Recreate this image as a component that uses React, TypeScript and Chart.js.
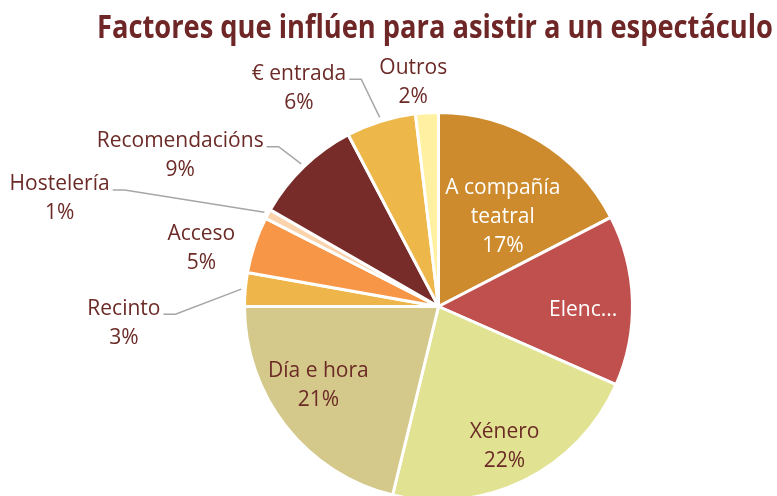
import React, { useEffect, useRef } from "react";
import { Chart, registerables } from "chart.js";

Chart.register(...registerables);

const TITLE = "Factores que inflúen para asistir a un espectáculo";
const categories = [
  "A compañía teatral",
  "Elenco",
  "Xénero",
  "Día e hora",
  "Recinto",
  "Acceso",
  "Hostelería",
  "Recomendacións",
  "€ entrada",
  "Outros",
];
const values = [17.4, 14.2, 22.2, 21.2, 2.8, 4.7, 0.8, 9.0, 5.8, 1.9];
const percentLabels = ["17%", "14%", "22%", "21%", "3%", "5%", "1%", "9%", "6%", "2%"];
const colors = [
  "#CD8B2D",
  "#C0504D",
  "#E1E392",
  "#D4C88A",
  "#EEB64A",
  "#F79646",
  "#FBD3AC",
  "#772C2A",
  "#EEB74A",
  "#FFF0A2",
];

// label lines shown per slice (text layout)
const labelLines: string[][] = [
  ["A compañía", "teatral", percentLabels[0]],
  ["Elenc..."],
  ["Xénero", percentLabels[2]],
  ["Día e hora", percentLabels[3]],
  ["Recinto", percentLabels[4]],
  ["Acceso", percentLabels[5]],
  ["Hostelería", percentLabels[6]],
  ["Recomendacións", percentLabels[7]],
  ["€ entrada", percentLabels[8]],
  ["Outros", percentLabels[9]],
];
// placement: rf = radius factor, da = degrees offset from slice mid-angle
const placement = [
  { rf: 0.568, da: 4.4, color: "#FFFFFF", leader: false },
  { rf: 0.746, da: 3.0, color: "#FFFFFF", leader: false },
  { rf: 0.8, da: 1.1, color: "#6B2A26", leader: false },
  { rf: 0.74, da: 5.0, color: "#6B2A26", leader: false },
  { rf: 1.624, da: -8.1, color: "#6B2A26", leader: true },
  { rf: 1.258, da: -4.9, color: "#6B2A26", leader: false },
  { rf: 2.03, da: -12.6, color: "#6B2A26", leader: true },
  { rf: 1.542, da: -15.8, color: "#6B2A26", leader: true },
  { rf: 1.335, da: -15.3, color: "#6B2A26", leader: true },
  { rf: 1.163, da: -3.0, color: "#6B2A26", leader: false },
];

const LABEL_FONT = "21px 'Open Sans', 'Noto Sans', sans-serif";
const LINE_H = 29;

const labelPlugin = {
  id: "customLabels",
  afterDraw(chart: any) {
    const ctx = chart.ctx as CanvasRenderingContext2D;
    // title
    ctx.save();
    ctx.fillStyle = "#6E2626";
    ctx.font = "bold 32px 'Open Sans', 'Noto Sans', sans-serif";
    ctx.textAlign = "center";
    ctx.textBaseline = "alphabetic";
    const tw = ctx.measureText(TITLE).width;
    const target = 676;
    ctx.translate(435, 38);
    ctx.scale(target / tw, 1);
    ctx.fillText(TITLE, 0, 0);
    ctx.restore();

    const meta = chart.getDatasetMeta(0);
    ctx.save();
    ctx.font = LABEL_FONT;
    ctx.textAlign = "center";
    ctx.textBaseline = "middle";
    meta.data.forEach((arc: any, i: number) => {
      const { x, y, startAngle, endAngle, outerRadius } = arc.getProps(
        ["x", "y", "startAngle", "endAngle", "outerRadius"],
        true
      );
      const mid = (startAngle + endAngle) / 2;
      const p = placement[i];
      const a = mid + (p.da * Math.PI) / 180;
      const cx = x + Math.cos(a) * outerRadius * p.rf;
      const cy = y + Math.sin(a) * outerRadius * p.rf;
      const lines = labelLines[i];
      const n = lines.length;
      ctx.fillStyle = p.color;
      let maxW = 0;
      lines.forEach((ln, k) => {
        const ly = cy + (k - (n - 1) / 2) * LINE_H;
        ctx.fillText(ln, cx, ly);
        maxW = Math.max(maxW, ctx.measureText(ln).width);
      });
      if (p.leader) {
        const sx = cx + maxW / 2 + 3;
        const sy = cy - 9;
        const ex = x + Math.cos(mid) * (outerRadius + 4);
        const ey = y + Math.sin(mid) * (outerRadius + 4);
        ctx.save();
        ctx.strokeStyle = "#A6A6A6";
        ctx.lineWidth = 1.5;
        ctx.beginPath();
        ctx.moveTo(sx, sy);
        ctx.lineTo(sx + 12, sy);
        ctx.lineTo(ex, ey);
        ctx.stroke();
        ctx.restore();
      }
    });
    ctx.restore();
  },
};

export default function App() {
  const ref = useRef<HTMLCanvasElement | null>(null);
  useEffect(() => {
    if (!ref.current) return;
    const chart = new Chart(ref.current, {
      type: "pie",
      data: {
        labels: categories,
        datasets: [
          {
            data: values,
            backgroundColor: colors,
            borderColor: "#FFFFFF",
            borderWidth: 3,
          },
        ],
      },
      options: {
        animation: false,
        responsive: false,
        layout: { padding: { left: 243, right: 143, top: 111, bottom: 8 } },
        plugins: {
          legend: { display: false },
          tooltip: { enabled: false },
          title: { display: false },
        },
      },
      plugins: [labelPlugin],
    });
    return () => chart.destroy();
  }, []);
  return (
    <div style={{ position: "fixed", left: 0, top: 0, width: 777, height: 510, background: "#fff" }}>
      <canvas ref={ref} width={777} height={510} style={{ width: 777, height: 510 }} />
    </div>
  );
}
